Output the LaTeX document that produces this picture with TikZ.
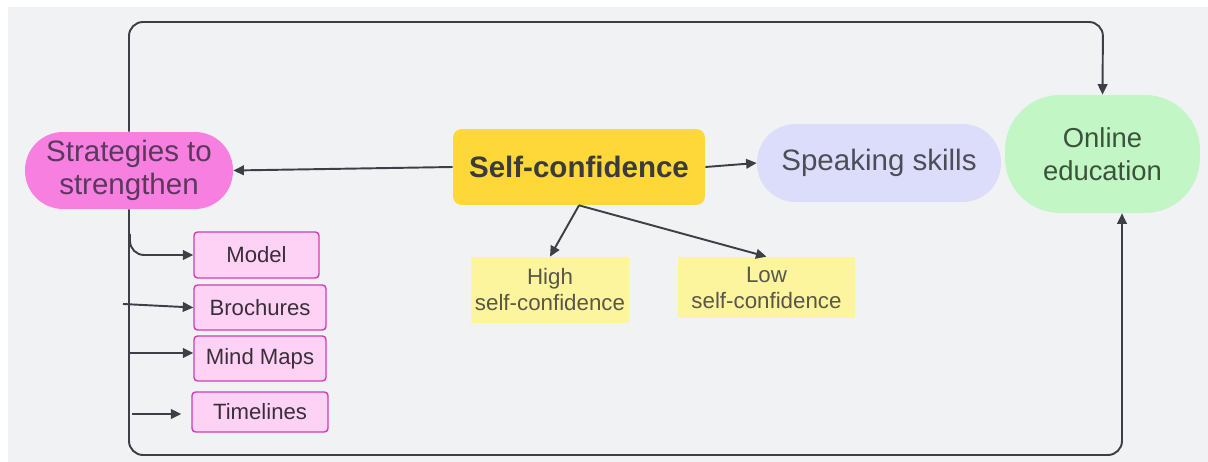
\documentclass[tikz,border=0pt]{standalone}
\usepackage{fontspec}
\setmainfont{Liberation Sans}
\usetikzlibrary{arrows.meta}
\definecolor{bgcol}{HTML}{F1F2F4}
\definecolor{linecol}{HTML}{3C4046}
\definecolor{stratfill}{HTML}{F67FE0}
\definecolor{stratink}{HTML}{5B385C}
\definecolor{selffill}{HTML}{FDD838}
\definecolor{selfink}{HTML}{3B3B3B}
\definecolor{speakfill}{HTML}{DCDCFB}
\definecolor{speakink}{HTML}{4D4D5A}
\definecolor{onlinefill}{HTML}{C3F6C5}
\definecolor{onlineink}{HTML}{3A533C}
\definecolor{levelfill}{HTML}{FDF49E}
\definecolor{levelink}{HTML}{58574A}
\definecolor{toolfill}{HTML}{FDD2F5}
\definecolor{tooldraw}{HTML}{D23CB4}
\definecolor{toolink}{HTML}{3A2E3A}
\begin{document}
\begin{tikzpicture}[x=0.02cm,y=-0.02cm,
  conn/.style={line width=1.1pt,draw=linecol,-{Triangle[length=6pt,width=5.5pt]}},
  topic/.style={inner sep=0pt,align=center,font=\fontsize{16.8}{19}\selectfont},
  level/.style={inner sep=0pt,align=center,fill=levelfill,text=levelink,
    font=\fontsize{12.7}{14.8}\selectfont},
  tool/.style={inner sep=0pt,align=center,fill=toolfill,draw=tooldraw,line width=0.8pt,
    rounded corners=2pt,text=toolink,minimum height=0.9cm,font=\fontsize{12.6}{14}\selectfont}]
\useasboundingbox[fill=white](0,0)rectangle(1208,462);
\fill[bgcol](8,7)rectangle(1208,462);
% main topics
\node[topic,fill=stratfill,text=stratink,minimum width=4.16cm,minimum height=1.54cm,
  rounded corners=0.76cm](strat)at(129,170.5){Strategies to\\strengthen};
\node[topic,fill=selffill,text=selfink,minimum width=5.04cm,minimum height=1.52cm,
  rounded corners=5pt,font=\fontsize{16.8}{19}\selectfont\bfseries](self)at(579,167){Self-confidence};
\node[topic,fill=speakfill,text=speakink,minimum width=4.88cm,minimum height=1.56cm,
  rounded corners=0.77cm](speak)at(879,163){Speaking skills};
\node[topic,fill=onlinefill,text=onlineink,minimum width=3.9cm,minimum height=2.36cm,
  rounded corners=1.1cm,font=\fontsize{15.6}{18.5}\selectfont](online)at(1102.5,154){Online\\education};
% levels
\node[level,minimum width=3.16cm,minimum height=1.32cm](high)at(550,290){High\\self-confidence};
\node[level,minimum width=3.54cm,minimum height=1.22cm](low)at(766.5,287.5){Low\\self-confidence};
% tools
\node[tool,minimum width=2.5cm,minimum height=0.92cm](model)at(256.5,255){Model};
\node[tool,minimum width=2.64cm](broch)at(260,307.5){Brochures};
\node[tool,minimum width=2.64cm](mind)at(260,358.5){Mind Maps};
\node[tool,minimum width=2.72cm,minimum height=0.8cm](time)at(260,412){Timelines};
\coordinate(topr)at(1103,22);
\coordinate(botr)at(1122,455);
\coordinate(m0)at(130,234);
\coordinate(b0)at(123,304);
\coordinate(mm0)at(130,353);
\coordinate(t0)at(132,414);
% connectors
\draw[conn,rounded corners=8pt](strat.north)|-(topr)--(online.north);
\draw[conn,rounded corners=8pt](strat.south)|-(botr)--(botr|-online.south);
\draw[conn](self.west)--(strat.east);
\draw[conn](self.east)--(speak.west);
\draw[conn](self.south)--(high.north);
\draw[conn](self.south)--(low.north);
\draw[conn,rounded corners=8pt](m0)|-(model.west);
\draw[conn](b0)--(broch.west);
\draw[conn](mm0)--(mm0-|mind.west);
\draw[conn](t0)--([xshift=-0.2cm]t0-|time.west);
\end{tikzpicture}
\end{document}
